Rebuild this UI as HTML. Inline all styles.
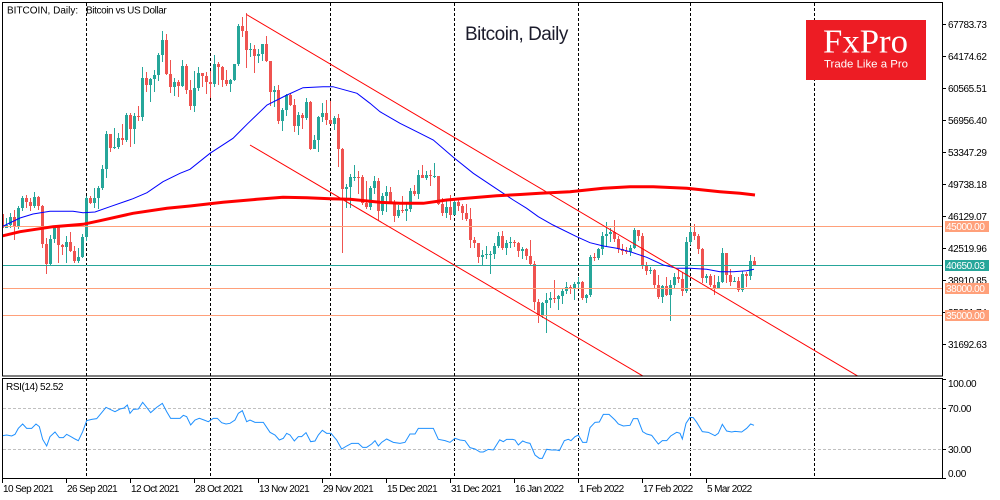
<!DOCTYPE html>
<html><head><meta charset="utf-8"><style>
html,body{margin:0;padding:0;background:#fff;width:1000px;height:500px;overflow:hidden}
svg{display:block}
.ax{font-family:"Liberation Sans",sans-serif;font-size:10px;letter-spacing:-0.4px;fill:#000}
.dt{font-family:"Liberation Sans",sans-serif;font-size:10px;letter-spacing:-0.6px;fill:#000}
.lb{font-family:"Liberation Sans",sans-serif;font-size:10px;letter-spacing:-0.4px;fill:#fff}
</style></head><body>
<svg width="1000" height="500" viewBox="0 0 1000 500" xmlns="http://www.w3.org/2000/svg">
<defs>
<clipPath id="cm"><rect x="3" y="3" width="939" height="373"/></clipPath>
<clipPath id="cr"><rect x="3" y="379" width="939" height="99"/></clipPath>
</defs>
<rect width="1000" height="500" fill="#fff"/>

<!-- month separators -->
<g stroke="#000" stroke-width="1" stroke-dasharray="3,2" shape-rendering="crispEdges">
<line x1="86.5" y1="3" x2="86.5" y2="478"/>
<line x1="210.5" y1="3" x2="210.5" y2="478"/>
<line x1="330.5" y1="3" x2="330.5" y2="478"/>
<line x1="454.5" y1="3" x2="454.5" y2="478"/>
<line x1="578.5" y1="3" x2="578.5" y2="478"/>
<line x1="690.5" y1="3" x2="690.5" y2="478"/>
<line x1="814.5" y1="3" x2="814.5" y2="478"/>
</g>

<!-- title -->
<text x="465" y="40" font-family="'Liberation Sans',sans-serif" font-size="19" letter-spacing="-0.5" fill="#1c1c2c">Bitcoin, Daily</text>

<!-- logo -->
<rect x="806" y="20" width="120" height="60" fill="#ED1C24"/>
<text x="823" y="52.5" font-family="'Liberation Serif',serif" font-size="34" fill="#fff" textLength="85" lengthAdjust="spacingAndGlyphs">FxPro</text>
<text x="824" y="67.5" font-family="'Liberation Sans',sans-serif" font-size="11" fill="#fff" textLength="84" lengthAdjust="spacingAndGlyphs">Trade Like a Pro</text>

<g clip-path="url(#cm)">
<g id="candles" shape-rendering="crispEdges"></g>
<g stroke-width="1" shape-rendering="crispEdges">
<line x1="2" y1="226.5" x2="942" y2="226.5" stroke="#FFA07A"/>
<line x1="2" y1="265.5" x2="942" y2="265.5" stroke="#26A69A"/>
<line x1="2" y1="288.5" x2="942" y2="288.5" stroke="#FFA07A"/>
<line x1="2" y1="315.5" x2="942" y2="315.5" stroke="#FFA07A"/>
</g>
<polyline fill="none" stroke="#0000FF" stroke-width="1" points="2,226.7 20,218 33,214 50,211.3 73,211.3 83,212.7 95,212 110,206.7 133,198.7 147,192.7 163,181.7 180,173.3 190,169.3 210,153.3 233,138.3 248,123.3 267,105 287,95 303,87.7 323,86.7 333,86.7 357,93.3 370,103.3 380,111.7 400,123.3 420,133.3 433.3,140 453.3,157.3 473.3,173.3 493.3,186.7 513.3,200 526.7,208.3 538.3,216.7 553,225 576.7,236.7 590,242.7 603.3,246 616.7,248.3 630,251.7 646.7,257.3 663.3,265 676.7,268.3 690,268.3 706.7,269.3 720,271.7 733.3,271.7 746.7,270.7 754,269.3"/>
<polyline fill="none" stroke="#FF0000" stroke-width="3" points="2,236 20,231.7 53,226.7 83,224.3 100,220.7 133,213.3 167,208.3 190,206 223,202.3 257,199.3 283,197.3 307,197.7 330,198.7 350,199.3 380,202.3 400,203.3 423.3,203.3 446.7,200 466.7,198.3 496.7,195.7 520,194.5 540,193.3 570,191.7 603.3,188.3 630,186.7 653.3,186.7 686.7,188.3 720,191.7 740,193.3 755,195"/>
<line x1="246.5" y1="14.5" x2="942" y2="425.9" stroke="#FF0000" stroke-width="1"/>
<line x1="250" y1="145" x2="650" y2="380.2" stroke="#FF0000" stroke-width="1"/>
</g>

<text x="7" y="13.5" class="ax" style="letter-spacing:0">BITCOIN, Daily:</text>
<text x="86" y="13.5" class="ax">Bitcoin vs US Dollar</text>

<!-- RSI -->
<g shape-rendering="crispEdges" stroke="#C0C0C0" stroke-dasharray="3,2">
<line x1="3" y1="408.5" x2="942" y2="408.5"/>
<line x1="3" y1="449.5" x2="942" y2="449.5"/>
</g>
<g clip-path="url(#cr)">
<polyline fill="none" stroke="#1E90FF" stroke-width="3" transform="translate(0,370) scale(0.33333)" points="8,197 20,195 35,198 45,193 55,175 68,162 80,175 95,175 108,162 118,170 128,208 140,228 150,200 165,186 178,203 190,203 200,193 213,200 225,207 235,212 248,185 260,152 275,148 290,146 305,128 318,112 330,118 345,125 360,117 372,114 382,105 390,130 400,118 415,117 428,97 440,112 452,128 470,112 487,100 500,125 512,145 525,145 540,145 550,136 560,140 572,165 585,150 598,145 612,150 625,155 640,145 652,145 665,158 678,162 690,160 705,150 715,130 727,122 740,155 750,150 765,157 790,157 810,187 825,195 838,210 850,205 860,190 870,195 883,213 895,200 905,200 918,188 932,215 945,213 955,195 967,181 980,190 993,190 1010,210 1025,237 1040,228 1055,220 1075,220 1088,232 1100,232 1115,222 1125,212 1135,228 1145,217 1160,207 1180,217 1200,220 1215,217 1230,192 1245,192 1255,175 1300,175 1315,208 1335,212 1350,217 1365,205 1380,210 1395,212 1410,233 1425,237 1440,246 1450,246 1465,238 1480,240 1500,208"/>
<polyline fill="none" stroke="#1E90FF" stroke-width="3" transform="translate(500,370) scale(0.33333)" points="0,210 10,215 20,208 38,208 45,210 55,225 68,213 80,218 90,220 105,255 118,265 127,265 140,238 155,240 170,240 178,242 193,212 205,208 213,212 225,200 235,195 248,217 260,217 270,173 285,157 298,156 310,133 327,133 345,150 355,162 370,168 390,166 400,146 413,146 428,185 440,192 455,196 475,222 487,212 500,212 512,198 530,187 540,190 547,207 558,160 570,142 580,143 590,157 607,185 625,187 645,197 655,190 667,163 680,183 695,186 705,184 725,186 740,175 752,162 762,166"/>
</g>
<text x="6" y="390" class="ax">RSI(14) 52.52</text>

<!-- frames -->
<g fill="none" stroke="#000" stroke-width="1" shape-rendering="crispEdges">
<rect x="2.5" y="2.5" width="940" height="373.5"/>
<rect x="2.5" y="378.5" width="940" height="100"/>
</g>

<!-- price axis ticks -->
<g stroke="#000" stroke-width="1" shape-rendering="crispEdges">
<line x1="942" y1="24.5" x2="946" y2="24.5"/>
<line x1="942" y1="56.5" x2="946" y2="56.5"/>
<line x1="942" y1="88.5" x2="946" y2="88.5"/>
<line x1="942" y1="120.5" x2="946" y2="120.5"/>
<line x1="942" y1="152.5" x2="946" y2="152.5"/>
<line x1="942" y1="184.5" x2="946" y2="184.5"/>
<line x1="942" y1="216.5" x2="946" y2="216.5"/>
<line x1="942" y1="248.5" x2="946" y2="248.5"/>
<line x1="942" y1="280.5" x2="946" y2="280.5"/>
<line x1="942" y1="312.5" x2="946" y2="312.5"/>
<line x1="942" y1="344.5" x2="946" y2="344.5"/>
<line x1="942" y1="379.5" x2="946" y2="379.5"/>
<line x1="942" y1="408.5" x2="946" y2="408.5"/>
<line x1="942" y1="449.5" x2="946" y2="449.5"/>
<line x1="942" y1="478.5" x2="946" y2="478.5"/>
</g>
<g class="ax">
<text x="948" y="28">67783.73</text>
<text x="948" y="60">64174.62</text>
<text x="948" y="92">60565.51</text>
<text x="948" y="124">56956.40</text>
<text x="948" y="156">53347.29</text>
<text x="948" y="188">49738.18</text>
<text x="948" y="220">46129.07</text>
<text x="948" y="252">42519.96</text>
<text x="948" y="284">38910.85</text>
<text x="948" y="316">35301.74</text>
<text x="948" y="348">31692.63</text>
<text x="948" y="387">100.00</text>
<text x="948" y="412">70.00</text>
<text x="948" y="453">30.00</text>
<text x="948" y="477">0.00</text>
</g>
<rect x="945" y="221" width="44" height="11" fill="#FFA07A"/>
<text x="946" y="230" class="lb">45000.00</text>
<rect x="945" y="260" width="44" height="11" fill="#26A69A"/>
<text x="946" y="269" class="lb">40650.03</text>
<rect x="945" y="283" width="44" height="11" fill="#FFA07A"/>
<text x="946" y="292" class="lb">38000.00</text>
<rect x="945" y="310" width="44" height="11" fill="#FFA07A"/>
<text x="946" y="319" class="lb">35000.00</text>

<!-- date axis -->
<g stroke="#000" stroke-width="1" shape-rendering="crispEdges">
<line x1="2.5" y1="479" x2="2.5" y2="483"/>
<line x1="66.5" y1="479" x2="66.5" y2="483"/>
<line x1="130.5" y1="479" x2="130.5" y2="483"/>
<line x1="194.5" y1="479" x2="194.5" y2="483"/>
<line x1="258.5" y1="479" x2="258.5" y2="483"/>
<line x1="322.5" y1="479" x2="322.5" y2="483"/>
<line x1="386.5" y1="479" x2="386.5" y2="483"/>
<line x1="450.5" y1="479" x2="450.5" y2="483"/>
<line x1="514.5" y1="479" x2="514.5" y2="483"/>
<line x1="578.5" y1="479" x2="578.5" y2="483"/>
<line x1="642.5" y1="479" x2="642.5" y2="483"/>
<line x1="706.5" y1="479" x2="706.5" y2="483"/>
</g>
<g class="dt">
<text x="3" y="492">10 Sep 2021</text>
<text x="67" y="492">26 Sep 2021</text>
<text x="131" y="492">12 Oct 2021</text>
<text x="195" y="492">28 Oct 2021</text>
<text x="259" y="492">13 Nov 2021</text>
<text x="323" y="492">29 Nov 2021</text>
<text x="387" y="492">15 Dec 2021</text>
<text x="451" y="492">31 Dec 2021</text>
<text x="515" y="492">16 Jan 2022</text>
<text x="579" y="492">1 Feb 2022</text>
<text x="643" y="492">17 Feb 2022</text>
<text x="707" y="492">5 Mar 2022</text>
</g>
</svg>
<script>
(function(){
var D=[[46050,47350,45550,46400],
[46400,47000,44200,44850],[44850,45950,44750,45150],[45150,46450,44800,46050],[46050,46850,43400,44950],[44950,47250,44700,47100],[47100,48450,46750,48150],[48150,48500,47050,47750],[47750,48150,46750,47300],[47300,48800,47050,48300],[48300,48350,46850,47250],
[47250,47350,42500,43000],[43000,43650,39600,40700],[40700,44000,40550,43550],[43550,44950,43100,44900],[44900,45000,40800,42850],[42850,42950,41700,42700],[42700,43900,40800,43200],[43200,44300,42100,42200],[42200,42800,40900,41050],[41050,42600,40800,41550],
[41550,44100,41450,43800],[43800,48400,43300,48150],[48150,48350,47450,47650],[47650,49300,47100,48200],[48200,49500,46950,49250],[49250,51900,49050,51500],[51500,55750,50400,55350],[55350,55350,53400,53800],[53800,56100,53650,53950],[53950,55500,53700,54950],
[54950,56500,54100,54700],[54700,57800,54450,57500],[57500,57700,53900,56000],[56000,57700,54300,57400],[57400,58550,56850,57350],[57350,62900,56850,61700],[61700,62350,60150,60900],[60900,61750,58950,61550],[61550,62650,60100,62050],[62050,64500,61350,64300],
[64300,67000,63500,66000],[66000,66650,62000,62200],[62200,63700,60000,60700],[60700,61750,59700,61300],[61300,61450,59550,60850],[60850,63700,60700,63100],[63100,63300,59850,60350],[60350,61450,58100,58500],[58500,62450,57850,60600],[60600,62950,60200,62250],
[62250,62300,60700,61900],[61900,62400,59950,61300],[61300,62450,59450,61000],[61000,64300,60650,63250],[63250,63500,60950,62950],[62950,63100,60700,61450],[61450,62600,60750,61000],[61000,61550,60150,61500],[61500,63300,61350,63300],[63300,67800,63100,67550],
[67550,68550,66350,66950],[66950,69000,62800,64900],[64900,65600,64100,64950],[64950,65450,62300,64150],[64150,65000,63400,64400],[64400,65500,63600,65500],[65500,66400,63450,63600],[63600,63600,58600,60100],[60100,60800,58400,60350],[60350,60950,56500,56900],
[56900,58350,55700,58100],[58100,59850,57400,59750],[59750,60050,58500,58700],[58700,59300,55650,56300],[56300,57850,55300,57550],[57550,57800,55900,57150],[57150,59400,57000,58950],[58950,59150,53550,53750],[53750,55300,53650,54750],[54750,57400,53350,57300],
[57300,58850,56750,57800],[57800,59200,56450,57000],[57000,59100,56500,56500],[56500,57400,55800,57200],[57200,57600,51700,53700],[53700,53850,42000,49200],[49200,49700,47100,49400],[49400,50900,47100,50600],[50600,51950,50100,50600],[50600,51200,48650,50500],
[50500,50800,47350,47600],[47600,50100,46900,47150],[47150,49500,46850,49350],[49350,50700,48650,50100],[50100,50400,45700,46700],[46700,48700,46300,48350],[48350,49500,46550,48850],[48850,49450,47500,47650],[47650,48000,45450,46200],[46200,47350,45950,46850],
[46850,48350,46450,46700],[46700,47550,45550,46900],[46900,49350,46650,49000],[49000,49600,48450,48600],[48600,51350,48050,50800],[50800,51850,50450,50400],[50400,51200,50200,50800],[50800,51300,49500,50650],[50650,52100,50450,50700],[50700,50700,47350,47550],
[47550,48150,46100,46450],[46450,47900,45950,47150],[47150,48500,45700,46300],[46300,47900,46250,47700],[47700,47950,46750,47300],[47300,47500,45700,46450],[46450,47500,45550,45800],[45800,47050,42600,43400],[43400,43750,42500,43100],[43100,43150,40800,41550],
[41550,42300,40550,41700],[41700,42750,41250,41850],[41850,42200,39650,41850],[41850,43100,41300,42750],[42750,44300,42500,43950],[43950,44450,42350,42600],[42600,43450,41750,43100],[43100,43750,42600,43200],[43200,43500,42650,43100],[43100,43200,41550,42250],
[42250,42700,41300,42400],[42400,42600,41200,41650],[41650,43500,40600,40700],[40700,41100,35600,36450],[36450,36850,34050,35050],[35050,36500,34650,36300],[36300,37500,33000,36700],[36700,37550,35750,36950],[36950,38900,36300,36850],[36850,37250,35550,37150],
[37150,38000,36200,37750],[37750,38700,37350,38150],[38150,38350,37400,37900],[37900,38700,36650,38500],[38500,39250,38050,38750],[38750,38850,36650,36900],[36900,37400,36300,37300],[37300,41700,37050,41550],[41550,42000,41100,41400],[41400,42600,41150,42400],
[42400,44400,41700,43850],[43850,45450,42700,44100],[44100,44750,43200,44350],[44350,45750,43200,43550],[43550,43900,42000,42400],[42400,43000,41750,42200],[42200,42700,41900,42050],[42050,42850,41600,42550],[42550,44750,42450,44550],[44550,44600,43350,43950],
[43950,44200,40150,40550],[40550,40950,39500,40000],[40000,40450,39650,40100],[40100,40150,38000,38400],[38400,39450,36850,37050],[37050,38400,36400,38300],[38300,39250,37100,37300],[37300,38950,34300,38350],[38350,39700,38050,39250],[39250,40200,38650,39100],
[39100,39850,37100,37700],[37700,43800,37500,43200],[43200,44900,42850,44400],[44400,45300,43400,43900],[43900,44100,41900,42450],[42450,42500,38650,39150],[39150,39650,38650,39400],[39400,39650,38150,38400],[38400,39450,37200,38050],[38050,39350,37900,38750],
[38750,42500,38650,41950],[41950,42000,38550,39450],[39450,40200,38250,38750],[38750,39300,38700,38800],[38800,39300,37600,37800],[37800,39900,37600,39650],[39650,39850,38200,39350],[39350,41700,38950,41100],[41100,41500,40550,40650]];
function Y(p){return Math.round(24+(67783.73-p)*0.0088748);}
var s='';
for(var i=0;i<D.length;i++){
 var d=i-1,xc=2+4*d,c=D[i],o=c[0],h=c[1],l=c[2],cl=c[3];
 var col=cl>=o?'#26A69A':'#EF5350';
 var yh=Y(h),yl=Y(l),yt=Y(Math.max(o,cl)),yb=Y(Math.min(o,cl));
 s+='<rect x="'+xc+'" y="'+yh+'" width="1" height="'+Math.max(1,yl-yh)+'" fill="'+col+'"/>';
 s+='<rect x="'+(xc-1)+'" y="'+yt+'" width="3" height="'+Math.max(1,yb-yt)+'" fill="'+col+'"/>';
}
document.getElementById('candles').innerHTML=s;
})();
</script>
</body></html>
